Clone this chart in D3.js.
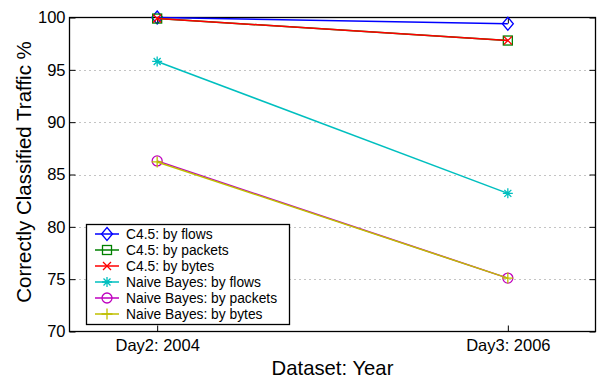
<!DOCTYPE html>
<html>
<head>
<meta charset="utf-8">
<script src="https://cdn.jsdelivr.net/npm/d3@7"></script>
<style>
  html, body { margin: 0; padding: 0; background: #fff; }
  svg { display: block; font-family: "Liberation Sans", Arial, sans-serif; }
</style>
</head>
<body>
<svg id="chart" width="601" height="383"></svg>
<script>
// Datasets on the x axis
const categories = ["Day2: 2004", "Day3: 2006"];
// Classification accuracy (%) per method
const seriesNames = [
  "C4.5: by flows", "C4.5: by packets", "C4.5: by bytes",
  "Naive Bayes: by flows", "Naive Bayes: by packets", "Naive Bayes: by bytes"
];
const c45Flows = [100.0, 99.4];
const c45Packets = [99.9, 97.8];
const c45Bytes = [99.9, 97.8];
const nbFlows = [95.8, 83.2];
const nbPackets = [86.3, 75.1];
const nbBytes = [86.2, 75.1];
const yTicks = [70, 75, 80, 85, 90, 95, 100];

const seriesValues = [c45Flows, c45Packets, c45Bytes, nbFlows, nbPackets, nbBytes];
const colors = ["#0000ff", "#008000", "#ff0000", "#00bfbf", "#bf00bf", "#bfbf00"];
const markers = ["diamond", "square", "x", "star", "circle", "plus"];

const svg = d3.select("#chart");
const plotL = 69.5, plotR = 595.5, plotT = 17.5, plotB = 331.5;

const x = d3.scaleLinear().domain([0.75, 2.25]).range([plotL, plotR]);
const y = d3.scaleLinear().domain([70, 100]).range([plotB, plotT]);

// Horizontal dotted grid
svg.append("g").selectAll("line")
  .data(yTicks.filter(t => t > 70 && t < 100))
  .join("line")
  .attr("x1", plotL).attr("x2", plotR)
  .attr("y1", d => Math.round(y(d)) + 0.5).attr("y2", d => Math.round(y(d)) + 0.5)
  .attr("stroke", "#888").attr("stroke-width", 1)
  .attr("stroke-dasharray", "1,4");

// Axes with inward ticks on all four sides
const tickLen = 6;
const yAxisL = d3.axisLeft(y).tickValues(yTicks).tickSize(-tickLen).tickPadding(4);
const yAxisR = d3.axisRight(y).tickValues(yTicks).tickSize(-tickLen).tickFormat("");
const xAxisB = d3.axisBottom(x).tickValues([1, 2]).tickSize(-tickLen).tickPadding(8)
  .tickFormat(d => categories[d - 1]);
const xAxisT = d3.axisTop(x).tickValues([1, 2]).tickSize(-tickLen).tickFormat("");

function styleAxis(g) {
  g.select(".domain").remove();
  g.selectAll(".tick line").attr("stroke", "#000").attr("stroke-width", 1);
  g.selectAll("text").attr("fill", "#000").style("font-size", "16.5px")
    .style("font-family", "'Liberation Sans', Arial, sans-serif");
}
svg.append("g").attr("transform", `translate(${plotL},0)`).call(yAxisL).call(styleAxis);
svg.append("g").attr("transform", `translate(${plotR},0)`).call(yAxisR).call(styleAxis);
svg.append("g").attr("transform", `translate(0,${plotB})`).call(xAxisB).call(styleAxis);
svg.append("g").attr("transform", `translate(0,${plotT})`).call(xAxisT).call(styleAxis);

// Plot frame
svg.append("rect")
  .attr("x", plotL).attr("y", plotT)
  .attr("width", plotR - plotL).attr("height", plotB - plotT)
  .attr("fill", "none").attr("stroke", "#000").attr("stroke-width", 1.3);

// Marker shapes
function drawMarker(g, type, cx, cy, color) {
  const s = 5.5;
  if (type === "diamond") {
    g.append("path").attr("d", `M${cx},${cy - s - 1}L${cx + s},${cy}L${cx},${cy + s + 1}L${cx - s},${cy}Z`)
      .attr("fill", "none").attr("stroke", color).attr("stroke-width", 1.3);
  } else if (type === "square") {
    g.append("rect").attr("x", cx - 4.5).attr("y", cy - 4.5).attr("width", 9).attr("height", 9)
      .attr("fill", "none").attr("stroke", color).attr("stroke-width", 1.3);
  } else if (type === "x") {
    const a = 4;
    g.append("path").attr("d", `M${cx - a},${cy - a}L${cx + a},${cy + a}M${cx - a},${cy + a}L${cx + a},${cy - a}`)
      .attr("stroke", color).attr("stroke-width", 1.3);
  } else if (type === "star") {
    const a = 5, b = 3.5;
    g.append("path").attr("d",
      `M${cx - a},${cy}L${cx + a},${cy}M${cx},${cy - a}L${cx},${cy + a}` +
      `M${cx - b},${cy - b}L${cx + b},${cy + b}M${cx - b},${cy + b}L${cx + b},${cy - b}`)
      .attr("stroke", color).attr("stroke-width", 1.3);
  } else if (type === "circle") {
    g.append("circle").attr("cx", cx).attr("cy", cy).attr("r", 5)
      .attr("fill", "none").attr("stroke", color).attr("stroke-width", 1.3);
  } else if (type === "plus") {
    const a = 5.5;
    g.append("path").attr("d", `M${cx - a},${cy}L${cx + a},${cy}M${cx},${cy - a}L${cx},${cy + a}`)
      .attr("stroke", color).attr("stroke-width", 1.3);
  }
}

// Series lines and markers
const line = d3.line().x((d, i) => x(i + 1)).y(d => y(d));
seriesValues.forEach((vals, k) => {
  const g = svg.append("g");
  g.append("path").datum(vals).attr("d", line)
    .attr("fill", "none").attr("stroke", colors[k]).attr("stroke-width", 1.5);
  vals.forEach((v, i) => drawMarker(g, markers[k], x(i + 1), y(v), colors[k]));
});

// Legend
const lg = svg.append("g");
lg.append("rect").attr("x", 86.5).attr("y", 224.5).attr("width", 203).attr("height", 100)
  .attr("fill", "#fff").attr("stroke", "#000").attr("stroke-width", 1.3);
seriesNames.forEach((name, k) => {
  const cy = 234 + k * 16;
  lg.append("line").attr("x1", 95).attr("x2", 119).attr("y1", cy).attr("y2", cy)
    .attr("stroke", colors[k]).attr("stroke-width", 1.5);
  drawMarker(lg, markers[k], 107, cy, colors[k]);
  lg.append("text").attr("x", 126).attr("y", cy).attr("dy", "0.35em")
    .style("font-size", "13.8px").attr("fill", "#000").text(name);
});

// Axis titles
svg.append("text").attr("x", (plotL + plotR) / 2).attr("y", 375)
  .attr("text-anchor", "middle").style("font-size", "20.3px").text("Dataset: Year");
svg.append("text").attr("transform", `translate(31,172) rotate(-90)`)
  .attr("text-anchor", "middle").style("font-size", "20.5px").text("Correctly Classified Traffic %");
</script>
</body>
</html>
